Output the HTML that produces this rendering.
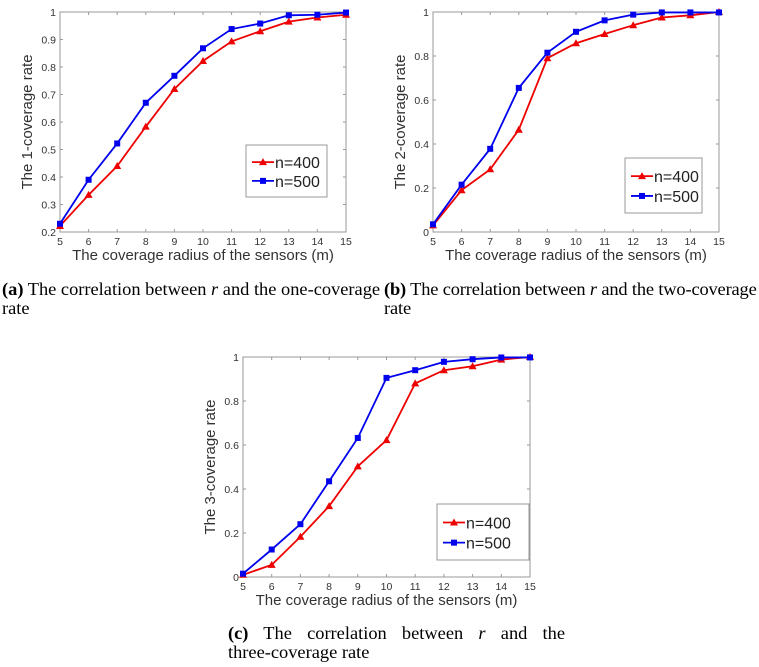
<!DOCTYPE html>
<html><head><meta charset="utf-8"><style>
body{margin:0;background:#fff;width:759px;height:667px;overflow:hidden;position:relative;font-family:"Liberation Sans",sans-serif}
svg{position:absolute;left:0;top:0}
.cap{position:absolute;font-family:"Liberation Serif",serif;font-size:18.4px;line-height:19px;color:#000;white-space:nowrap}
</style></head><body>
<svg id="s" width="759" height="667"></svg>
<div class="cap" style="left:2px;top:280px"><b>(a)</b> The correlation between <i>r</i> and the one-coverage<br>rate</div>
<div class="cap" style="left:384px;top:280px;letter-spacing:-0.15px"><b>(b)</b> The correlation between <i>r</i> and the two-coverage<br>rate</div>
<div class="cap" style="left:228px;top:624px;width:337px;text-align:justify;text-align-last:justify"><b>(c)</b> The correlation between <i>r</i> and the</div>
<div class="cap" style="left:228px;top:643px">three-coverage rate</div>
<script>
const xCats=[5,6,7,8,9,10,11,12,13,14,15];
const aRed=[0.222,0.335,0.44,0.583,0.72,0.822,0.893,0.93,0.965,0.98,0.99];
const aBlue=[0.23,0.39,0.522,0.67,0.768,0.868,0.938,0.958,0.988,0.99,0.998];
const bRed=[0.03,0.19,0.285,0.465,0.79,0.858,0.9,0.94,0.975,0.985,1.0];
const bBlue=[0.035,0.215,0.378,0.655,0.815,0.91,0.962,0.988,0.998,0.998,0.998];
const cRed=[0.01,0.055,0.183,0.322,0.503,0.622,0.88,0.94,0.958,0.988,1.0];
const cBlue=[0.015,0.125,0.24,0.435,0.632,0.905,0.94,0.978,0.99,0.998,0.998];
const aTicks=[0.2,0.3,0.4,0.5,0.6,0.7,0.8,0.9,1];
const bTicks=[0,0.2,0.4,0.6,0.8,1];
const legendLabels=["n=400","n=500"];
const NS="http://www.w3.org/2000/svg";
const svg=document.getElementById('s');
function mk(t,at,p){const e=document.createElementNS(NS,t);for(const k in at)e.setAttribute(k,at[k]);(p||svg).appendChild(e);return e;}
function chart(id,L,R,T,B,ymin,ymax,ticks,red,blue,ylabel,leg){
  const g=mk('g',{});
  
  
  const xs=v=>L+(v-5)/10*(R-L), ys=v=>B-(v-ymin)/(ymax-ymin)*(B-T);
  const box=mk('rect',{x:L,y:T,width:R-L,height:B-T,fill:'none',stroke:'#999','stroke-width':1},g);
  
  
  xCats.forEach(v=>{const x=xs(v);
    mk('line',{x1:x,x2:x,y1:B,y2:B-3,stroke:'#999'},g);mk('line',{x1:x,x2:x,y1:T,y2:T+3,stroke:'#999'},g);
    const t=mk('text',{x:x,y:B+13,'font-size':10.5,fill:'#333','text-anchor':'middle'},g);t.textContent=v;
    
    });
  ticks.forEach(v=>{const y=ys(v);
    mk('line',{x1:L,x2:L+3,y1:y,y2:y,stroke:'#999'},g);mk('line',{x1:R,x2:R-3,y1:y,y2:y,stroke:'#999'},g);
    const t=mk('text',{x:L-4,y:y+4,'font-size':10.5,fill:'#333','text-anchor':'end'},g);t.textContent=v;
    
    });
  const xt=mk('text',{x:(L+R)/2,y:B+28,'font-size':15,fill:'#333','text-anchor':'middle'},g);xt.textContent='The coverage radius of the sensors (m)';
  
  
  const yx=L-28,yy=(T+B)/2;
  const yt=mk('text',{x:yx,y:yy,'font-size':15,fill:'#333','text-anchor':'middle',transform:`rotate(-90 ${yx} ${yy})`},g);yt.textContent=ylabel;
  
  
  function series(vals,col,sq,name){
    const pl=mk('polyline',{points:vals.map((v,i)=>xs(xCats[i])+','+ys(v)).join(' '),fill:'none',stroke:col,'stroke-width':1.8},g);
    
    
    vals.forEach((v,i)=>{const x=xs(xCats[i]),y=ys(v);
      const m=sq?mk('rect',{x:x-3,y:y-3,width:6,height:6,fill:col},g):mk('polygon',{points:`${x},${y-4} ${x-4},${y+3} ${x+4},${y+3}`,fill:col},g);
      
      });
  }
  series(red,'#ee0000',false,'n400');
  series(blue,'#0000ee',true,'n500');
  const [lx,ly,lw,lh]=leg;
  const lg=mk('g',{},g);
  
  
  mk('rect',{x:lx,y:ly,width:lw,height:lh,fill:'#fff',stroke:'#999'},lg);
  [['#ee0000',false],['#0000ee',true]].forEach((c,k)=>{const y=ly+lh*(k?0.69:0.33);
    mk('line',{x1:lx+6,x2:lx+28,y1:y,y2:y,stroke:c[0],'stroke-width':1.8},lg);
    const cx=lx+17;
    if(c[1])mk('rect',{x:cx-3,y:y-3,width:6,height:6,fill:c[0]},lg);else mk('polygon',{points:`${cx},${y-4} ${cx-4},${y+3} ${cx+4},${y+3}`,fill:c[0]},lg);
    const t=mk('text',{x:lx+29,y:y+6,'font-size':16,fill:'#222'},lg);t.textContent=legendLabels[k];
    
    });
}
chart('a',60,346,12,232,0.2,1,aTicks,aRed,aBlue,'The 1-coverage rate',[246,145,81,52]);
chart('b',433,719,12,232,0,1,bTicks,bRed,bBlue,'The 2-coverage rate',[625,158,77,55]);
chart('c',243,530,357,577,0,1,bTicks,cRed,cBlue,'The 3-coverage rate',[437,504,92,56]);
</script>
</body></html>
